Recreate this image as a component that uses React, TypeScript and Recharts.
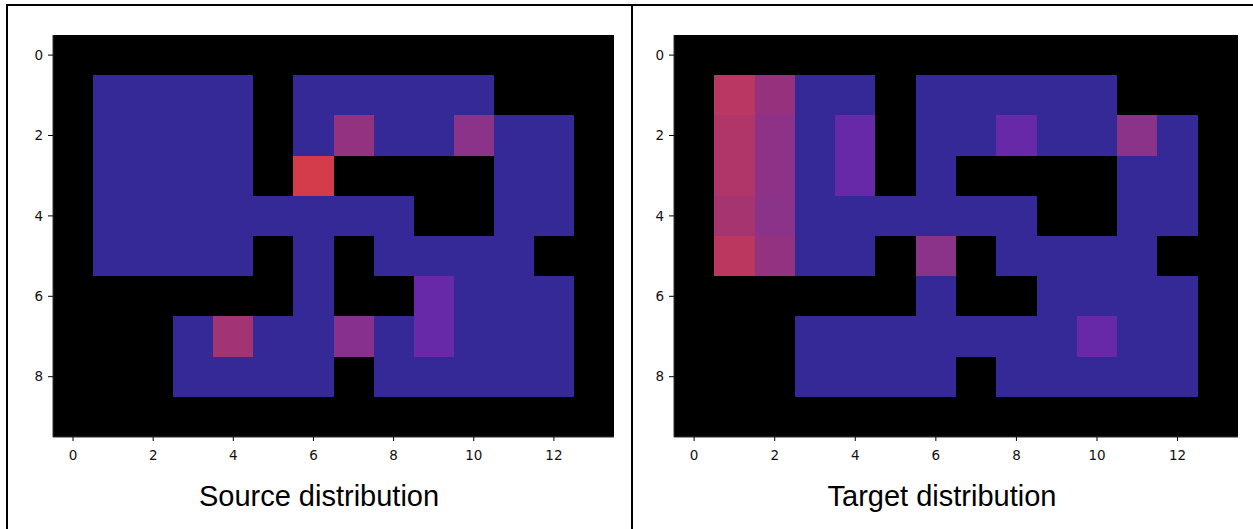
import React from 'react';
import { ScatterChart, Scatter, XAxis, YAxis, ReferenceArea } from 'recharts';

// null = wall (black), number = density level (0 = low/blue, 1 = high/red)
const _ = null;

const sourceGrid: (number | null)[][] = [
  [_, _, _, _, _, _, _, _, _, _, _, _, _, _],
  [_, 0, 0, 0, 0, _, 0, 0, 0, 0, 0, _, _, _],
  [_, 0, 0, 0, 0, _, 0, 0.6, 0, 0, 0.5, 0, 0, _],
  [_, 0, 0, 0, 0, _, 1, _, _, _, _, 0, 0, _],
  [_, 0, 0, 0, 0, 0, 0, 0, 0, _, _, 0, 0, _],
  [_, 0, 0, 0, 0, _, 0, _, 0, 0, 0, 0, _, _],
  [_, _, _, _, _, _, 0, _, _, 0.25, 0, 0, 0, _],
  [_, _, _, 0, 0.7, 0, 0, 0.47, 0, 0.25, 0, 0, 0, _],
  [_, _, _, 0, 0, 0, 0, _, 0, 0, 0, 0, 0, _],
  [_, _, _, _, _, _, _, _, _, _, _, _, _, _],
];

const targetGrid: (number | null)[][] = [
  [_, _, _, _, _, _, _, _, _, _, _, _, _, _],
  [_, 0.85, 0.62, 0, 0, _, 0, 0, 0, 0, 0, _, _, _],
  [_, 0.8, 0.52, 0, 0.25, _, 0, 0, 0.25, 0, 0, 0.5, 0, _],
  [_, 0.8, 0.52, 0, 0.25, _, 0, _, _, _, _, 0, 0, _],
  [_, 0.72, 0.5, 0, 0, 0, 0, 0, 0, _, _, 0, 0, _],
  [_, 0.86, 0.6, 0, 0, _, 0.5, _, 0, 0, 0, 0, _, _],
  [_, _, _, _, _, _, 0, _, _, 0, 0, 0, 0, _],
  [_, _, _, 0, 0, 0, 0, 0, 0, 0, 0.25, 0, 0, _],
  [_, _, _, 0, 0, 0, 0, _, 0, 0, 0, 0, 0, _],
  [_, _, _, _, _, _, _, _, _, _, _, _, _, _],
];

const xTicks = [0, 2, 4, 6, 8, 10, 12];
const yTicks = [0, 2, 4, 6, 8];
const titles = ['Source distribution', 'Target distribution'];

// colour scale anchors (level -> rgb)
const anchors: [number, [number, number, number]][] = [
  [0, [53, 41, 151]],
  [0.25, [103, 41, 168]],
  [0.5, [139, 50, 137]],
  [0.6, [147, 50, 127]],
  [0.7, [162, 52, 115]],
  [0.85, [185, 55, 98]],
  [1, [213, 60, 75]],
];

function colorFor(v: number | null): string {
  if (v === null) return '#000000';
  for (let i = 0; i < anchors.length - 1; i++) {
    const [a, ca] = anchors[i];
    const [b, cb] = anchors[i + 1];
    if (v >= a && v <= b) {
      const t = (v - a) / (b - a);
      const c = ca.map((x, k) => Math.round(x + (cb[k] - x) * t));
      return `rgb(${c[0]},${c[1]},${c[2]})`;
    }
  }
  const c = anchors[anchors.length - 1][1];
  return `rgb(${c[0]},${c[1]},${c[2]})`;
}

const tickStyle = { fontFamily: 'DejaVu Sans', fontSize: 13.5, fill: '#111' };

const CellShape = (p: any) => (
  <rect x={p.x} y={p.y} width={p.width} height={p.height} fill={p.fill} stroke="none" shapeRendering="crispEdges" />
);

function Panel({ grid, left, width, margin }: { grid: (number | null)[][]; left: number; width: number; margin: any }) {
  const cells: { x: number; y: number; v: number | null }[] = [];
  grid.forEach((row, r) => row.forEach((v, c) => cells.push({ x: c, y: r, v })));
  return (
    <div style={{ position: 'absolute', left, top: 0 }}>
      <ScatterChart width={width} height={529} margin={margin}>
        <XAxis
          type="number"
          dataKey="x"
          domain={[-0.5, 13.5]}
          ticks={xTicks}
          allowDataOverflow
          height={30}
          tickSize={4}
          tickMargin={9}
          tick={tickStyle}
          axisLine={{ stroke: '#333' }}
          tickLine={{ stroke: '#000' }}
          interval={0}
        />
        <YAxis
          type="number"
          dataKey="y"
          domain={[-0.5, 9.5]}
          ticks={yTicks}
          reversed
          allowDataOverflow
          width={30}
          tickSize={5}
          tickMargin={5}
          tick={tickStyle}
          axisLine={{ stroke: '#333' }}
          tickLine={{ stroke: '#000' }}
          interval={0}
        />
        {cells.map((d, i) => (
          <ReferenceArea
            key={i}
            x1={d.x - 0.5}
            x2={d.x + 0.5}
            y1={d.y - 0.5}
            y2={d.y + 0.5}
            fill={colorFor(d.v)}
            fillOpacity={1}
            shape={CellShape}
            isFront={false}
          />
        ))}
        <Scatter data={cells} isAnimationActive={false} shape={() => <g />} />
      </ScatterChart>
    </div>
  );
}

const titleStyle: React.CSSProperties = {
  position: 'absolute',
  top: 480,
  width: 400,
  textAlign: 'center',
  fontFamily: 'Liberation Sans, Arial, sans-serif',
  fontSize: 29,
  lineHeight: '32px',
  color: '#000',
};

export default function App() {
  return (
    <div style={{ position: 'absolute', left: 0, top: 0, width: 1253, height: 529, background: '#fff', overflow: 'hidden' }}>
      <Panel grid={sourceGrid} left={0} width={632} margin={{ top: 35, right: 18, bottom: 62, left: 23 }} />
      <Panel grid={targetGrid} left={632} width={621} margin={{ top: 35, right: 15, bottom: 62, left: 12 }} />
      <div style={{ position: 'absolute', left: 6, top: 4, width: 1247, height: 2, background: '#000' }} />
      <div style={{ position: 'absolute', left: 6, top: 4, width: 2, height: 525, background: '#000' }} />
      <div style={{ position: 'absolute', left: 631, top: 4, width: 2, height: 525, background: '#000' }} />
      <div style={{ ...titleStyle, left: 119 }}>{titles[0]}</div>
      <div style={{ ...titleStyle, left: 742 }}>{titles[1]}</div>
    </div>
  );
}
